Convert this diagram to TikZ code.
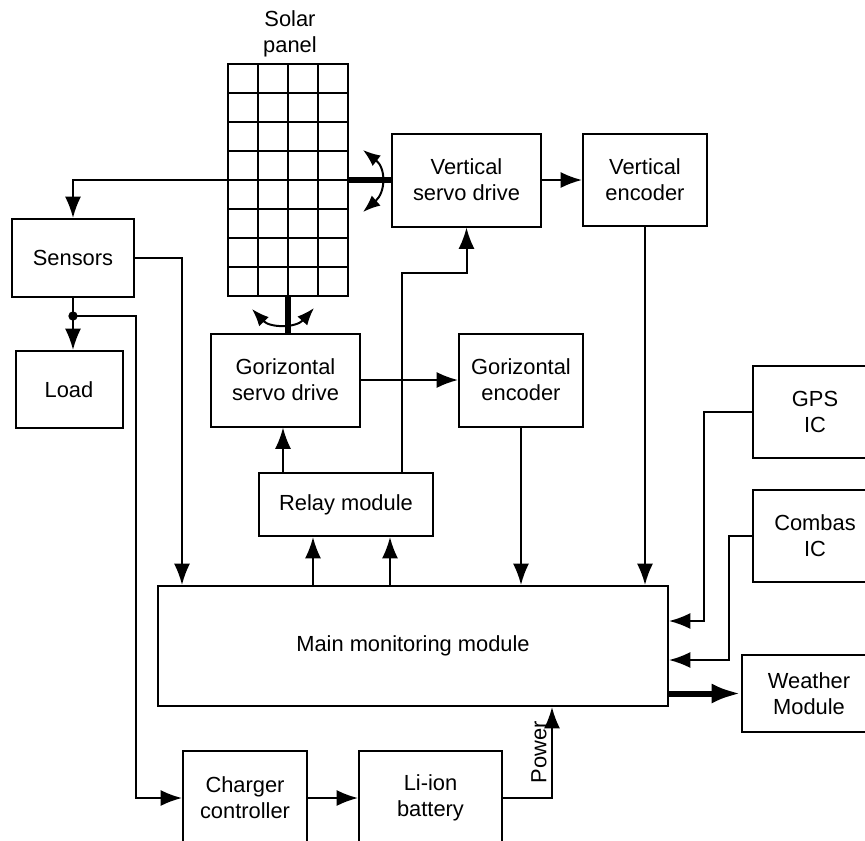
\documentclass[tikz,border=0pt]{standalone}
\usepackage{fontspec}
\setmainfont{Liberation Sans}
\usetikzlibrary{arrows.meta}

\begin{document}
\begin{tikzpicture}[x = 0.75pt, y = -0.75pt, line width = 1.5pt,
  box/.style = {draw, align = center, inner sep = 0pt,
    font = \fontsize{16.4}{19.5}\selectfont},
  arr/.style = {-{Latex[length=16pt,width=12pt]}},
  twoarr/.style = {{Latex[length=13pt,width=10pt]}-{Latex[length=13pt,width=10pt]}},
  heavy/.style = {line width = 4.5pt}]
  \useasboundingbox (0, 0) rectangle (865, 840);

  % パネル
  \node[draw, minimum width = 90pt, minimum height = 174pt] (panel) at (288, 180) {};
  \foreach \i in {258, 288, 318}
    \draw (\i, 64)--(\i, 296);
  \foreach \j in {93, 122, 151, 180, 209, 238, 267}
    \draw (228, \j)--(348, \j);
  \node[box, draw = none] (ptext) at (290, 34) {Solar\\panel};

  % ブロック
  \node[box, minimum width = 111.75pt, minimum height = 69.75pt] (vsd) at (466.5, 180) {Vertical\\servo drive};
  \node[box, minimum width = 93pt, minimum height = 69pt] (venc) at (645, 180) {Vertical\\encoder};
  \node[box, minimum width = 91.5pt, minimum height = 58.5pt] (sens) at (73, 258) {Sensors};
  \node[box, minimum width = 80.25pt, minimum height = 57.75pt] (load) at (69, 389.5) {Load};
  \node[box, minimum width = 111.75pt, minimum height = 69.75pt] (gsd) at (285.5, 380) {Gorizontal\\servo drive};
  \node[box, minimum width = 93pt, minimum height = 69.75pt] (genc) at (521, 380) {Gorizontal\\encoder};
  \node[box, minimum width = 130.5pt, minimum height = 47.25pt] (relay) at (346, 504.5) {Relay module};
  \node[box, minimum width = 382.5pt, minimum height = 90pt] (main) at (413, 646) {Main monitoring module};
  \node[box, minimum width = 93pt, minimum height = 69pt] (gps) at (815, 412) {GPS\\IC};
  \node[box, minimum width = 93pt, minimum height = 69pt] (comb) at (815, 536) {Combas\\IC};
  \node[box, minimum width = 100.5pt, minimum height = 57.75pt] (weat) at (809, 693.5) {Weather\\Module};
  \node[box, minimum width = 93pt, minimum height = 70.5pt] (chg) at (245, 798) {Charger\\controller};
  \node[box, minimum width = 107.25pt, minimum height = 70.5pt] (bat) at (430.5, 798) {Li-ion\\battery};

  % 回転軸
  \draw[heavy] (panel.east)--(panel.east -| vsd.west);
  \draw[heavy] (panel.south)--(panel.south |- gsd.north);
  \draw[twoarr] (363, 150) .. controls (386, 168) and (386, 192) .. (363, 212);
  \draw[twoarr] (252, 309) .. controls (270, 328) and (296, 328) .. (314, 308);

  % 矢印
  \draw[arr] (panel.west) -| (sens.north);
  \draw[arr] (sens.east) -| (main.north -| 182, 0);
  \coordinate (jn) at (73, 316);
  \coordinate (jr) at (136, 316);
  \draw[arr] (sens.south)--(sens.south |- load.north);
  \draw[arr] (jn)--(jr) |- (chg.west);
  \fill (jn) circle (3.5pt);

  \draw[arr] (vsd.east)--(venc.west);
  \draw[arr] (gsd.east)--(genc.west);
  \draw[arr] (venc.south)--(venc.south |- main.north);
  \draw[arr] (genc.south)--(genc.south |- main.north);
  \draw[arr] (relay.north -| 283, 0)--(gsd.south -| 283, 0);
  \draw[arr] (relay.north -| 402, 0) |- (vsd.south |- 0, 273)--(vsd.south);
  \draw[arr] (main.north -| 313, 0)--(relay.south -| 313, 0);
  \draw[arr] (main.north -| 390, 0)--(relay.south -| 390, 0);

  \draw[arr] (gps.west) -| (704, 621)--(main.east |- 0, 621);
  \draw[arr] (comb.west) -| (729, 660)--(main.east |- 0, 660);
  \draw[heavy, -{Latex[length=22pt,width=15pt]}] (main.east |- weat.west)--(weat.west);

  \draw[arr] (chg.east)--(bat.west);
  \draw[arr] (bat.east) -| (main.south -| 552, 0)
    node[pos = 0.75, above, sloped, font = \fontsize{16.4}{19.5}\selectfont] {Power};

\end{tikzpicture}
\end{document}
